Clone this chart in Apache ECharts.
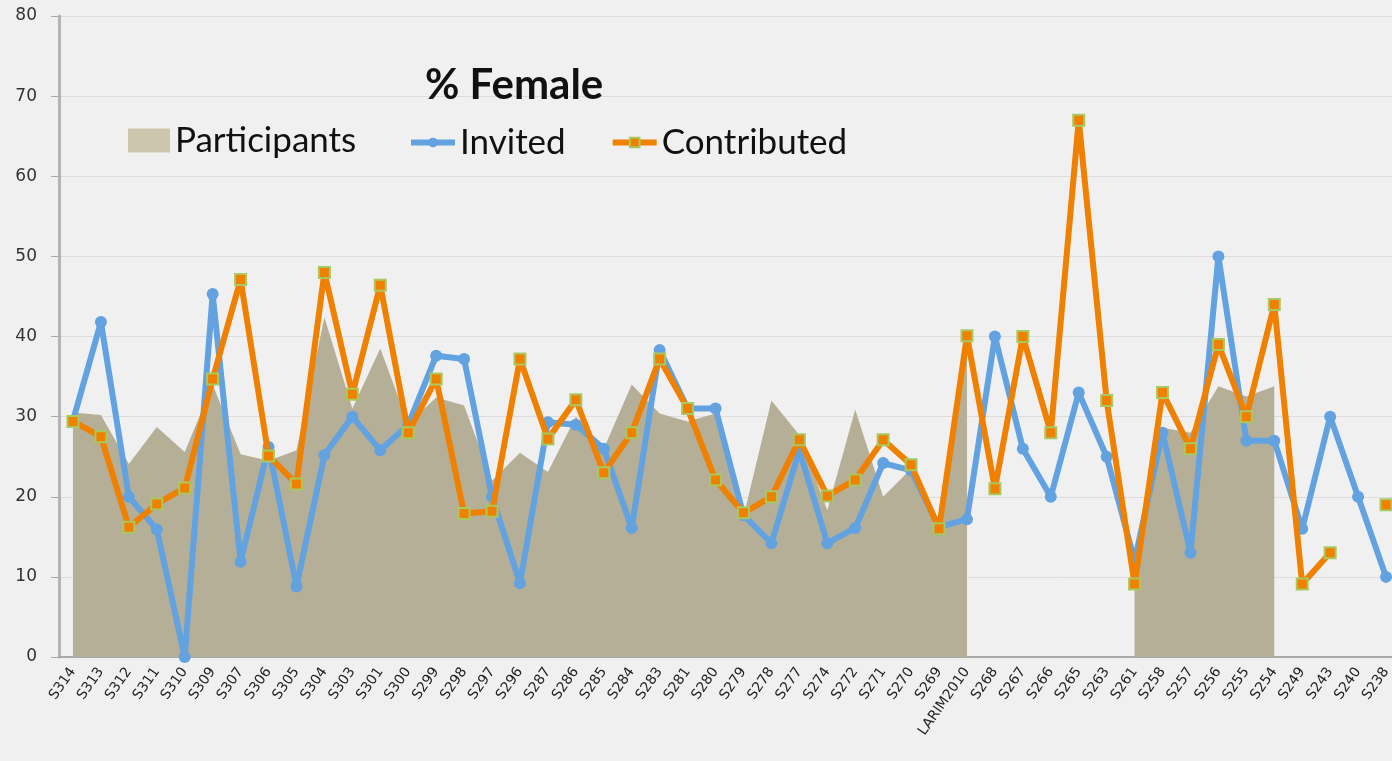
<!DOCTYPE html>
<html>
<head>
<meta charset="utf-8">
<script src="https://cdn.jsdelivr.net/npm/echarts@6/dist/echarts.min.js"></script>
<style>
  html, body { margin: 0; padding: 0; background: #f0f0f0; }
  #main { width: 1392px; height: 761px; }
</style>
</head>
<body>
<div id="main"></div>
<script>
// categories along the x axis
var sessions = ['S314', 'S313', 'S312', 'S311', 'S310', 'S309', 'S307', 'S306', 'S305', 'S304',
    'S303', 'S301', 'S300', 'S299', 'S298', 'S297', 'S296', 'S287', 'S286', 'S285',
    'S284', 'S283', 'S281', 'S280', 'S279', 'S278', 'S277', 'S274', 'S272', 'S271',
    'S270', 'S269', 'LARIM2010', 'S268', 'S267', 'S266', 'S265', 'S263', 'S261', 'S258',
    'S257', 'S256', 'S255', 'S254', 'S249', 'S243', 'S240', 'S238'];

// % female
var participants = [30.5, 30.2, 24.1, 28.7, 25.6, 34, 25.3, 24.5, 25.8, 42.4,
    31, 38.5, 29.1, 32.4, 31.4, 22, 25.5, 23.1, 30, 26,
    34, 30.4, 29.4, 30.4, 17.5, 32, 27.7, 18.3, 30.9, 20,
    23.5, 17, 39.5, null, null, null, null, null, 10, 28.6,
    28, 33.8, 32.5, 33.8, null, null, null, null];

var invited = [29.5, 41.8, 20, 15.9, 0, 45.3, 11.9, 26.2, 8.8, 25.2,
    30, 25.8, 29, 37.6, 37.2, 20, 9.2, 29.3, 29, 26,
    16.1, 38.3, 31, 31, 17.7, 14.2, 25.8, 14.2, 16.1, 24.2,
    23.3, 16.2, 17.2, 40, 26, 20, 33, 25, 12, 28,
    13, 50, 27, 27, 16, 30, 20, 10];

var contributed = [29.4, 27.5, 16.2, 19.1, 21.1, 34.7, 47.1, 25.1, 21.6, 48,
    32.8, 46.4, 28, 34.7, 17.9, 18.2, 37.2, 27.2, 32.1, 23,
    28, 37.2, 31, 22.1, 18, 20, 27.1, 20.1, 22.1, 27.1,
    24, 16, 40.1, 21, 40, 28, 67, 32, 9.1, 33,
    26, 39, 30, 44, 9.1, 13, null, 19];

var chartDom = document.getElementById('main');
var myChart = echarts.init(chartDom);
var option;

option = {
    backgroundColor: '#f0f0f0',
    animation: false,
    title: {
        text: '% Female',
        left: 420,
        top: 59,
        textStyle: {
            fontFamily: 'Lato',
            fontSize: 42,
            fontWeight: 'bold',
            color: '#111'
        }
    },
    legend: [{
        data: [{ name: 'Participants', icon: 'rect', itemStyle: { color: '#cbc6ad' } }],
        left: 123,
        top: 118,
        itemWidth: 42,
        itemHeight: 24,
        textStyle: { fontFamily: 'Lato', fontSize: 35, color: '#111' }
    }, {
        data: ['Invited', 'Contributed'],
        left: 403,
        top: 120,
        itemWidth: 44,
        itemHeight: 12,
        itemGap: 44,
        lineStyle: { width: 6 },
        textStyle: { fontFamily: 'Lato', fontSize: 35, color: '#111' }
    }],
    grid: {
        left: 59,
        width: 1341,
        top: 16,
        bottom: 104,
        outerBoundsMode: 'none'
    },
    xAxis: {
        type: 'category',
        data: sessions,
        boundaryGap: true,
        axisLine: { lineStyle: { color: '#a8a8a8', width: 2 } },
        axisTick: { length: 6, lineStyle: { color: '#a8a8a8' } },
        axisLabel: {
            rotate: 55,
            interval: 0,
            margin: 12,
            fontFamily: 'DejaVu Sans',
            fontSize: 14,
            color: '#222'
        }
    },
    yAxis: {
        type: 'value',
        min: 0,
        max: 80,
        interval: 10,
        axisLine: { show: true, lineStyle: { color: '#b4b4b4', width: 3 } },
        axisTick: { show: true, length: 8, lineStyle: { color: '#a8a8a8' } },
        axisLabel: {
            margin: 22,
            fontFamily: 'DejaVu Sans',
            fontSize: 17,
            color: '#333'
        },
        splitLine: { lineStyle: { color: '#dcdcdc', width: 1 } }
    },
    series: [{
        name: 'Participants',
        type: 'line',
        data: participants,
        symbol: 'none',
        lineStyle: { width: 0 },
        itemStyle: { color: '#b6af97' },
        areaStyle: { color: '#b6af97', opacity: 1 },
        z: 1
    }, {
        name: 'Invited',
        type: 'line',
        data: invited,
        symbol: 'circle',
        symbolSize: 12,
        lineStyle: { width: 6, color: '#62a2e0' },
        itemStyle: { color: '#62a2e0' },
        z: 2
    }, {
        name: 'Contributed',
        type: 'line',
        data: contributed,
        symbol: 'rect',
        symbolSize: 11,
        lineStyle: { width: 6, color: '#ef8000' },
        itemStyle: { color: '#ef8000', borderColor: '#a9c860', borderWidth: 2 },
        z: 3
    }]
};

option && myChart.setOption(option);
</script>
</body>
</html>
